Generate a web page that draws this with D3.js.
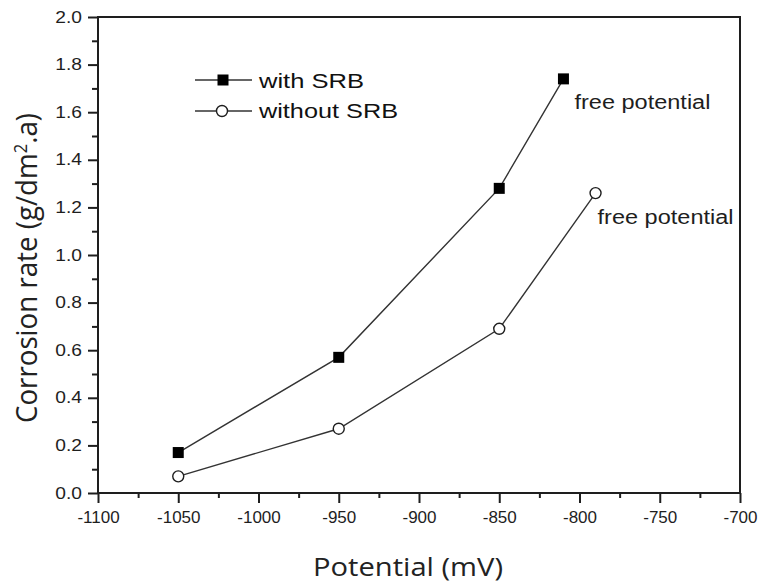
<!DOCTYPE html>
<html>
<head>
<meta charset="utf-8">
<script src="https://cdn.jsdelivr.net/npm/d3@7/dist/d3.min.js"></script>
<style>
  html, body { margin: 0; padding: 0; background: #fff; }
  svg text { font-family: "Liberation Sans", Arial, sans-serif; }
</style>
</head>
<body>
<div id="chart"></div>
<script>
// corrosion rate vs potential, with / without SRB
const W = 761, H = 584;
const M = { top: 17, right: 21, bottom: 91, left: 98 };

const potWith = [-1050, -950, -850, -810];
const rateWith = [0.17, 0.57, 1.28, 1.74];
const potWithout = [-1050, -950, -850, -790];
const rateWithout = [0.07, 0.27, 0.69, 1.26];
const xTicks = [-1100, -1050, -1000, -950, -900, -850, -800, -750, -700];
const yTicks = [0.0, 0.2, 0.4, 0.6, 0.8, 1.0, 1.2, 1.4, 1.6, 1.8, 2.0];
const INK = '#1e1e1e';

const svg = d3.select('#chart').append('svg').attr('width', W).attr('height', H);
const innerW = W - M.left - M.right, innerH = H - M.top - M.bottom;
const g = svg.append('g').attr('transform', `translate(${M.left},${M.top})`);

const x = d3.scaleLinear().domain([-1100, -700]).range([0, innerW]);
const y = d3.scaleLinear().domain([0, 2]).range([innerH, 0]);

// minor ticks
g.append('g').attr('class', 'ax').attr('transform', `translate(0,${innerH})`)
  .call(d3.axisBottom(x).tickValues(d3.range(-1075, -700, 50)).tickSize(5).tickFormat(''));
g.append('g').attr('class', 'ax')
  .call(d3.axisLeft(y).tickValues(d3.range(0.1, 2, 0.2)).tickSize(6).tickFormat(''));

// major ticks + labels
const xAx = g.append('g').attr('class', 'ax').attr('transform', `translate(0,${innerH})`)
  .call(d3.axisBottom(x).tickValues(xTicks).tickSize(10).tickPadding(8)
    .tickFormat(d => '-' + Math.abs(d)));
const yAx = g.append('g').attr('class', 'ax')
  .call(d3.axisLeft(y).tickValues(yTicks).tickSize(10).tickPadding(6).tickFormat(d3.format('.1f')));

g.selectAll('.ax .domain').remove();
g.selectAll('.ax .tick line').attr('stroke', INK).attr('stroke-width', 2);
g.selectAll('.ax text').attr('font-size', 16).attr('fill', INK);
xAx.selectAll('text').attr('font-size', 17);
// the source picture is a bit stretched sideways
yAx.selectAll('text').attr('x', 0).attr('transform', 'translate(-16,0) scale(1.2,1)');

// frame
g.append('rect').attr('width', innerW).attr('height', innerH)
  .attr('fill', 'none').attr('stroke', INK).attr('stroke-width', 2);

const line = d3.line().x(d => x(d[0])).y(d => y(d[1]));
const withPts = potWith.map((p, i) => [p, rateWith[i]]);
const withoutPts = potWithout.map((p, i) => [p, rateWithout[i]]);

[withPts, withoutPts].forEach(pts => {
  g.append('path').datum(pts).attr('d', line)
    .attr('fill', 'none').attr('stroke', '#333').attr('stroke-width', 1.4);
});

g.selectAll('rect.sq').data(withPts).enter().append('rect').attr('class', 'sq')
  .attr('x', d => x(d[0]) - 5.5).attr('y', d => y(d[1]) - 5.5)
  .attr('width', 11).attr('height', 11).attr('fill', '#000');
g.selectAll('circle.ci').data(withoutPts).enter().append('circle').attr('class', 'ci')
  .attr('cx', d => x(d[0])).attr('cy', d => y(d[1])).attr('r', 5.5)
  .attr('fill', '#fff').attr('stroke', INK).attr('stroke-width', 1.4);

// "free potential" notes next to the last points
const last1 = withPts[withPts.length - 1], last2 = withoutPts[withoutPts.length - 1];
g.append('text').attr('x', x(last1[0]) + 11).attr('y', y(last1[1]) + 30)
  .attr('font-size', 20).attr('fill', INK)
  .attr('textLength', 136).attr('lengthAdjust', 'spacingAndGlyphs').text('free potential');
g.append('text').attr('x', x(last2[0]) + 2).attr('y', y(last2[1]) + 31)
  .attr('font-size', 20).attr('fill', INK)
  .attr('textLength', 136).attr('lengthAdjust', 'spacingAndGlyphs').text('free potential');

// legend
const leg = svg.append('g').attr('transform', 'translate(195,80)');
leg.append('line').attr('x1', 0).attr('x2', 57).attr('y1', 0).attr('y2', 0)
  .attr('stroke', '#333').attr('stroke-width', 1.4);
leg.append('rect').attr('x', 22.5).attr('y', -5.5).attr('width', 11).attr('height', 11).attr('fill', '#000');
leg.append('text').attr('x', 64).attr('y', 8).attr('font-size', 21).attr('fill', '#111')
  .attr('textLength', 105).attr('lengthAdjust', 'spacingAndGlyphs').text('with SRB');
leg.append('line').attr('x1', 0).attr('x2', 57).attr('y1', 31).attr('y2', 31)
  .attr('stroke', '#333').attr('stroke-width', 1.4);
leg.append('circle').attr('cx', 27).attr('cy', 31).attr('r', 5.5)
  .attr('fill', '#fff').attr('stroke', INK).attr('stroke-width', 1.4);
leg.append('text').attr('x', 64).attr('y', 38).attr('font-size', 21).attr('fill', '#111')
  .attr('textLength', 139).attr('lengthAdjust', 'spacingAndGlyphs').text('without SRB');

// axis titles
svg.append('text').attr('transform', 'translate(37,268) scale(1.15,1) rotate(-90)')
  .attr('text-anchor', 'middle').attr('font-size', 25).attr('fill', '#222')
  .attr('textLength', 310).attr('lengthAdjust', 'spacingAndGlyphs')
  .style('font-family', '"Open Sans", "Noto Sans", sans-serif')
  .html('Corrosion rate (g/dm<tspan dy="-9" font-size="15">2</tspan><tspan dy="9">.a)</tspan>');
svg.append('text').attr('x', 408).attr('y', 576)
  .attr('text-anchor', 'middle').attr('font-size', 25).attr('fill', '#222')
  .attr('textLength', 190).attr('lengthAdjust', 'spacingAndGlyphs')
  .style('font-family', '"Open Sans", "Noto Sans", sans-serif')
  .text('Potential (mV)');
</script>
</body>
</html>
